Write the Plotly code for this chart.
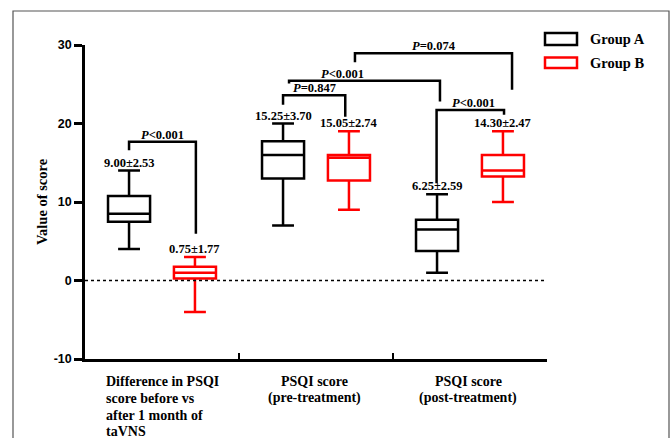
import plotly.graph_objects as go

# ---------------- data ----------------
categories = ["Difference", "Pre", "Post"]
cat_labels = [
    ["Difference in PSQI", "score before vs", "after 1 month of", "taVNS"],
    ["PSQI score", "(pre-treatment)"],
    ["PSQI score", "(post-treatment)"],
]
groups = ["Group A", "Group B"]
colors = ["#000000", "#ff0000"]

a_lower = [4, 7, 1]
a_q1 = [7.5, 13, 3.75]
a_median = [8.5, 16, 6.5]
a_q3 = [10.75, 17.75, 7.75]
a_upper = [14, 20, 11]
a_text = ["9.00±2.53", "15.25±3.70", "6.25±2.59"]

b_lower = [-4, 9, 10]
b_q1 = [0.25, 12.75, 13.25]
b_median = [1, 15.65, 14]
b_q3 = [1.75, 16, 16]
b_upper = [3, 19, 19]
b_text = ["0.75±1.77", "15.05±2.74", "14.30±2.47"]

# brackets: x_left, x_right, y_top, y_left_end, y_right_end, label, label_x
br_xl = [-0.214, 0.786, 0.825, 1.253, 1.783]
br_xr = [0.22, 1.19, 1.805, 2.273, 2.221]
br_top = [17.66, 23.6, 25.45, 28.94, 21.72]
br_yl = [16.6, 22.4, 25.1, 27.8, 12.4]
br_yr = [5.95, 20.85, 22.8, 24.3, 21.1]
br_text = ["<i>P</i>&lt;0.001", "<i>P</i>=0.847", "<i>P</i>&lt;0.001",
           "<i>P</i>=0.074", "<i>P</i>&lt;0.001"]
br_tx = [0.0, 0.987, 1.169, 1.766, 2.02]

y_ticks = [-10, 0, 10, 20, 30]
y_ticktext = ["-10", "0", "10", "20", "30"]

SERIF = "Times New Roman, Liberation Serif, serif"
SANS = "Arial, Liberation Sans, sans-serif"

# ---------------- geometry helpers (pixel -> paper) ----------------
L, R, T, B = 85, 547, 45, 359
W, H = R - L, B - T


def px(x):
    return (x - L) / W


def py(y):
    return (B - y) / H


xpos = list(range(len(categories)))
BOXGAP, GROUPGAP = 0.144, 0.362
off = (1 - BOXGAP) / 4

fig = go.Figure()
stats = [
    (a_lower, a_q1, a_median, a_q3, a_upper),
    (b_lower, b_q1, b_median, b_q3, b_upper),
]
for g, c, (lo, q1, md, q3, up) in zip(groups, colors, stats):
    fig.add_trace(go.Box(
        name=g, x=xpos, lowerfence=lo, q1=q1, median=md, q3=q3, upperfence=up,
        line=dict(color=c, width=2.5), fillcolor="rgba(0,0,0,0)",
        whiskerwidth=0.52, boxpoints=False, showlegend=False, hoverinfo="skip",
    ))

annotations = []
shapes = []

# mean ± sd labels
for i in xpos:
    for txt, up, sgn in ((a_text[i], a_upper[i], -1), (b_text[i], b_upper[i], 1)):
        annotations.append(dict(
            x=i + sgn * off, y=up, xref="x", yref="y", text=txt, showarrow=False,
            yanchor="middle", yshift=8, font=dict(family=SERIF, size=12.5, color="black", weight="bold"),
        ))

# brackets
for xl, xr, yt, yl, yr, t, tx in zip(br_xl, br_xr, br_top, br_yl, br_yr, br_text, br_tx):
    shapes.append(dict(
        type="path", xref="x", yref="y",
        path=f"M {xl},{yl} L {xl},{yt} L {xr},{yt} L {xr},{yr}",
        line=dict(color="black", width=2.5),
    ))
    annotations.append(dict(
        x=tx, y=yt, xref="x", yref="y", text=t, showarrow=False,
        yanchor="middle", yshift=7, font=dict(family=SERIF, size=12.5, color="black", weight="bold"),
    ))

# dotted zero line
shapes.append(dict(type="line", xref="paper", yref="y", x0=0, x1=px(545), y0=0, y1=0,
                   line=dict(color="black", width=1.5, dash="dot")))

# category labels
line_y = [381.7, 398.4, 415.1, 431.8]
for i, lines in enumerate(cat_labels):
    for j, ln in enumerate(lines):
        if i == 0:
            annotations.append(dict(x=px(104), y=py(line_y[j]), xref="paper", yref="paper",
                                    text=ln, showarrow=False, xanchor="left", yanchor="middle",
                                    font=dict(family=SERIF, size=14, color="black", weight="bold")))
        else:
            annotations.append(dict(x=xpos[i] - 0.01, y=py(line_y[j]), xref="x", yref="paper",
                                    text=ln, showarrow=False, xanchor="center", yanchor="middle",
                                    font=dict(family=SERIF, size=14, color="black", weight="bold")))

# custom legend
leg_y = [(33, 45), (57.5, 68)]
for g, c, (y0, y1) in zip(groups, colors, leg_y):
    shapes.append(dict(type="rect", xref="paper", yref="paper",
                       x0=px(545), x1=px(577), y0=py(y1), y1=py(y0),
                       line=dict(color=c, width=2.5), fillcolor="rgba(0,0,0,0)"))
    annotations.append(dict(x=px(588), y=py((y0 + y1) / 2), xref="paper", yref="paper",
                            text=g, showarrow=False, xanchor="left", yanchor="middle",
                            font=dict(family=SERIF, size=14.5, color="black", weight="bold")))

# outer frame
shapes.append(dict(type="path", xref="paper", yref="paper",
                   path=f"M {px(13)},{py(445)} L {px(13)},{py(11)} L {px(669)},{py(11)} L {px(669)},{py(445)}",
                   line=dict(color="#555555", width=1.2)))

fig.update_layout(
    width=672, height=438,
    margin=dict(l=L, r=672 - R, t=T, b=438 - B, autoexpand=False),
    paper_bgcolor="white", plot_bgcolor="white",
    boxmode="group", boxgap=BOXGAP, boxgroupgap=GROUPGAP,
    showlegend=False,
    xaxis=dict(range=[-0.5, 2.5], tickvals=[0.5, 1.5], ticktext=["", ""],
               ticks="inside", ticklen=6, tickwidth=2, tickcolor="black",
               showline=True, linecolor="black", linewidth=2.5,
               showgrid=False, zeroline=False, fixedrange=True),
    yaxis=dict(range=[-10, 30], tickvals=y_ticks, ticktext=y_ticktext,
               ticks="outside", ticklen=8, tickwidth=2.5,
               tickcolor="black", showline=True, linecolor="black", linewidth=2.5,
               showgrid=False, zeroline=False,
               tickfont=dict(family=SANS, size=12.5, color="black", weight="bold"),
               title=dict(text="Value of score", standoff=3,
                          font=dict(family=SERIF, size=14.5, color="black", weight="bold"))),
    annotations=annotations, shapes=shapes,
)

fig.write_html(
    "out.html",
    config={"displayModeBar": False},
    post_script="document.body.style.margin='0';document.body.style.overflow='hidden';",
)
